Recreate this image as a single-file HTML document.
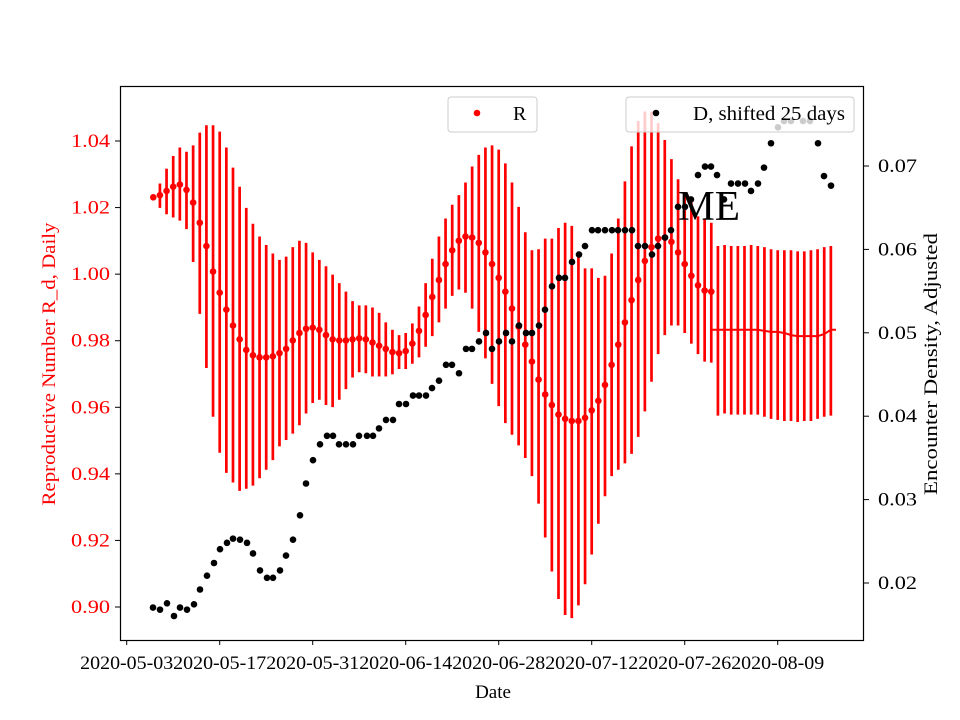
<!DOCTYPE html>
<html><head><meta charset="utf-8"><style>body{margin:0;background:#fff}svg{display:block}text{font-family:"Liberation Serif",serif}</style></head>
<body>
<svg id="s" width="960" height="720" xmlns="http://www.w3.org/2000/svg">
<rect width="960" height="720" fill="#fff"/>
<g id="bars"></g><g id="dots"></g>
<g id="leg">
<rect x="448" y="97" width="89" height="35" rx="3" fill="#fff" fill-opacity="0.8" stroke="#ccc" stroke-width="1"/>
<circle cx="477" cy="113" r="3.3" fill="red"/>
<text x="513" y="120" font-size="20">R</text>
<rect x="626" y="97" width="228" height="35" rx="3" fill="#fff" fill-opacity="0.8" stroke="#ccc" stroke-width="1"/>
<circle cx="656" cy="113" r="3.3" fill="#000"/>
<text x="693" y="120" font-size="20" textLength="152" lengthAdjust="spacingAndGlyphs">D, shifted 25 days</text>
</g>
<text x="678" y="220" font-size="42" textLength="62" lengthAdjust="spacingAndGlyphs">ME</text>
<rect x="120.5" y="86.5" width="743" height="554" fill="none" stroke="#000" stroke-width="1.2"/>
<g id="ax" font-size="19"></g>
<text x="493" y="698" font-size="19" text-anchor="middle">Date</text>
<text transform="translate(55,364) rotate(-90)" font-size="19" fill="red" text-anchor="middle" textLength="283" lengthAdjust="spacingAndGlyphs">Reproductive Number R_d, Daily</text>
<text transform="translate(937,364) rotate(-90)" font-size="19" text-anchor="middle" textLength="262" lengthAdjust="spacingAndGlyphs">Encounter Density, Adjusted</text>
</svg>
<script>
var NS="http://www.w3.org/2000/svg";
function el(p,t,a){var e=document.createElementNS(NS,t);for(var k in a)e.setAttribute(k,a[k]);p.appendChild(e);return e;}
function X(d){return 126.7+d*6.643;}
function Y(y){return 86+(y-86)*1.06;}
var R=[[4,191,191,191],[5,189,178,201],[6,185,164,207],[7,181,152,210],[8,179,144,213],[9,184,148,221],[10,196,142,252],[11,215,130,301],[12,237,123,352],[13,261,123,398],[14,281,129,432],[15,297,144,451],[16,312,163,460],[17,325,181,468],[18,335,201,466],[19,340,216,463],[20,342,228,456],[21,342,236,448],[22,341,244,439],[23,338,250,426],[24,334,247,420],[25,326,238,414],[26,319,232,406],[27,315,234,395],[28,314,243,385],[29,316,250,382],[30,321,256,387],[31,325,264,389],[32,326,272,382],[33,326,280,372],[34,325,289,361],[35,324,293,356],[36,325,293,357],[37,328,295,360],[38,331,300,360],[39,334,309,360],[40,337,316,358],[41,338,321,353],[42,336,319,353],[43,329,310,348],[44,317,294,342],[45,302,272,332],[46,285,249,322],[47,269,228,309],[48,254,211,296],[49,241,198,284],[50,232,189,278],[51,228,177,281],[52,229,162,296],[53,234,151,318],[54,243,144,343],[55,254,142,367],[56,267,146,388],[57,280,159,404],[58,296,177,415],[59,313,200,425],[60,330,224,437],[61,346,241,454],[62,363,240,480],[63,377,230,512],[64,387,230,544],[65,396,220,570],[66,400,215,585],[67,402,218,588],[68,402,242,576],[69,399,258,556],[70,392,258,528],[71,383,267,499],[72,368,265,473],[73,349,244,454],[74,330,211,448],[75,309,176,442],[76,288,143,433],[77,269,119,417],[78,251,110,393],[79,238,110,365],[80,230,121,339],[81,229,137,321],[82,233,155,312],[83,243,174,312],[84,254,188,319],[85,265,196,329],[86,274,209,339],[87,279,212,346],[88,280,215,347]];
var cen=[316,316,316,316,316,316,316,317,318,318,319,321,322,322,322,322,320,316];
var tops=[237,236,237,237,237,236,237,238,240,241,241,241,242,242,241,240,238,237];
var bots=[397,395,396,396,396,396,396,398,400,401,402,402,403,402,402,400,398,397];
var B=document.getElementById("bars"),D=document.getElementById("dots");
R.forEach(function(r){var x=X(r[0]);if(r[3]-r[2]>1)el(B,"line",{x1:x,x2:x,y1:Y(r[2]),y2:Y(r[3]),stroke:"red","stroke-width":2.7});el(D,"circle",{cx:x,cy:Y(r[1]),r:3.3,fill:"red"});});
var pts=[];
for(var i=0;i<18;i++){var x=X(89+i);el(B,"line",{x1:x,x2:x,y1:Y(tops[i]),y2:Y(bots[i]),stroke:"red","stroke-width":2.7});pts.push(x+","+Y(cen[i]));}
pts.unshift("712,"+Y(316));pts.push("836,"+Y(316));
el(B,"polyline",{points:pts.join(" "),fill:"none",stroke:"red","stroke-width":2});
var K=[[153,578],[160,580],[167,574],[174,586],[180,578],[187,580],[194,575],[200,561],[207,548],[214,536],[220,523],[227,517],[233,513],[240,514],[247,517],[253,527],[260,543],[267,550],[273,550],[280,543],[286,529],[293,514],[300,491],[306,461],[313,439],[320,424],[327,416],[333,416],[339,424],[346,424],[353,424],[359,416],[367,416],[373,416],[379,409],[386,401],[393,401],[399,386],[406,386],[413,378],[419,378],[426,378],[432,371],[439,364],[446,349],[452,349],[459,357],[466,334],[472,334],[479,327],[486,319],[492,334],[499,327],[506,319],[512,327],[519,312],[526,319],[532,319],[539,312],[545,297],[552,275],[559,267],[565,267],[572,252],[579,245],[585,237],[592,222],[598,222],[605,222],[612,222],[618,222],[625,222],[632,222],[638,237],[645,237],[652,245],[658,237],[665,229],[671,222],[678,200],[685,200],[691,193],[698,170],[705,162],[711,162],[717,170],[724,193],[731,178],[738,178],[745,178],[751,185],[758,178],[764,163],[771,140],[778,125],[784,119],[791,119],[803,119],[810,119],[818,140],[824,171],[831,180]];
K.forEach(function(p){el(D,"circle",{cx:p[0],cy:Y(p[1]),r:3.3,fill:"#000"});});
var A=document.getElementById("ax");
["2020-05-03","2020-05-17","2020-05-31","2020-06-14","2020-06-28","2020-07-12","2020-07-26","2020-08-09"].forEach(function(t,i){var x=X(i*14);el(A,"line",{x1:x,x2:x,y1:640,y2:645,stroke:"#000"});var e=el(A,"text",{x:x,y:669,"text-anchor":"middle",textLength:93,lengthAdjust:"spacingAndGlyphs"});e.textContent=t;});
["0.90","0.92","0.94","0.96","0.98","1.00","1.02","1.04"].forEach(function(t,i){var y=607-i*66.57;el(A,"line",{x1:115,x2:120,y1:y,y2:y,stroke:"#000"});var e=el(A,"text",{x:110,y:y+6,"text-anchor":"end",fill:"red",textLength:39,lengthAdjust:"spacingAndGlyphs"});e.textContent=t;});
["0.02","0.03","0.04","0.05","0.06","0.07"].forEach(function(t,i){var y=583-i*83.4;el(A,"line",{x1:864,x2:869,y1:y,y2:y,stroke:"#000"});var e=el(A,"text",{x:878,y:y+6,textLength:39,lengthAdjust:"spacingAndGlyphs"});e.textContent=t;});
</script>
</body></html>
